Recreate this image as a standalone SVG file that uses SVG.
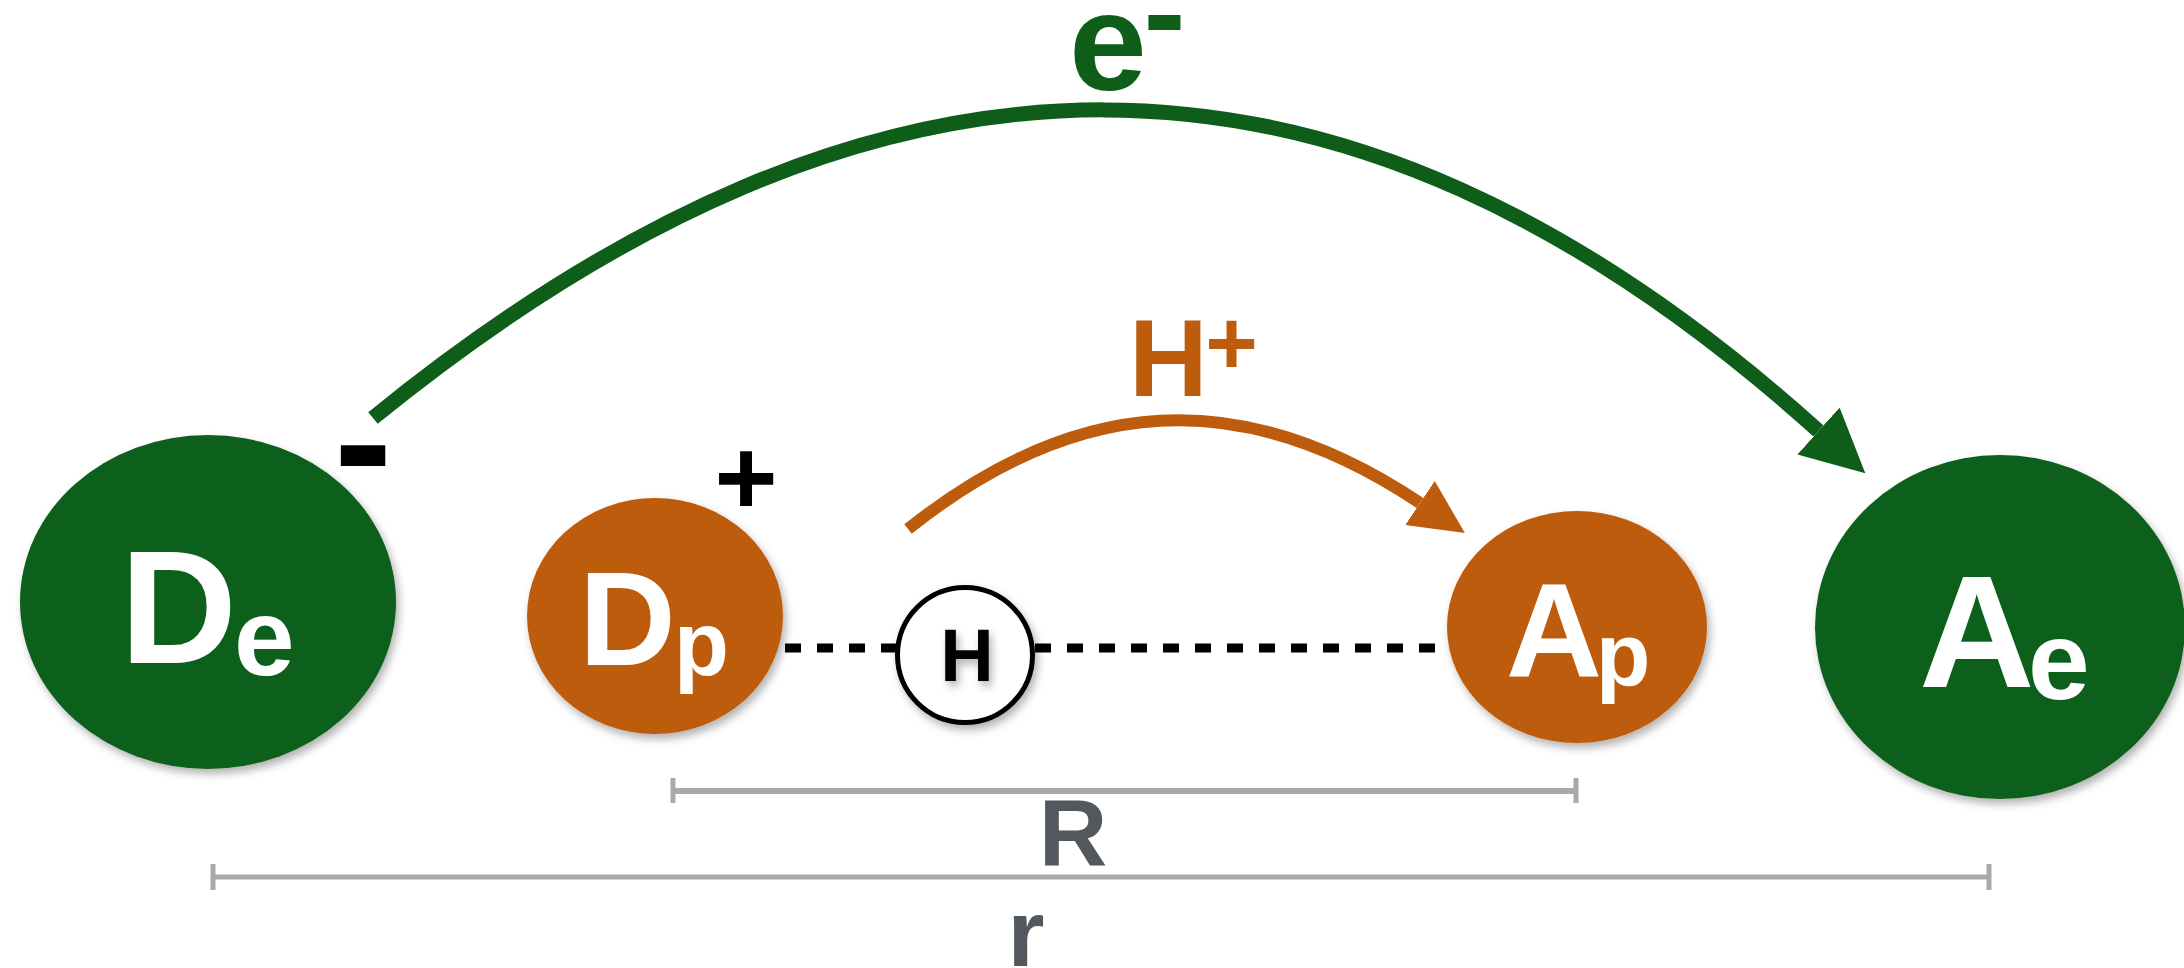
<svg xmlns="http://www.w3.org/2000/svg" width="2184" height="968" viewBox="0 0 2184 968">
  <style>
    .lbl { font-family: "Liberation Sans", Arial, sans-serif; font-weight: bold; }
    .w { fill: #ffffff; }
    .green { fill: #0e5e1a; }
    .orange { fill: #bd5c0c; }
    .dim { stroke: #a6aaa8; fill: none; }
    .dimtxt { fill: #53575e; }
    .dash { stroke: #000; stroke-width: 9; stroke-dasharray: 16 16; fill: none; }
  </style>
  <defs>
    <filter id="sh" x="-20%" y="-20%" width="140%" height="140%">
      <feDropShadow dx="3" dy="5" stdDeviation="4" flood-color="#000" flood-opacity="0.3"/>
    </filter>
    <marker id="gArrow" markerUnits="userSpaceOnUse" viewBox="0 -32 64 64" markerWidth="64" markerHeight="64" refX="0" refY="0" orient="auto">
      <path d="M0,-31.5 L63,0 L0,31.5 z" fill="#0e5e1a"/>
    </marker>
    <marker id="oArrow" markerUnits="userSpaceOnUse" viewBox="0 -27 55 54" markerWidth="55" markerHeight="54" refX="0" refY="0" orient="auto">
      <path d="M0,-26.5 L54,0 L0,26.5 z" fill="#bd5c0c"/>
    </marker>
  </defs>
  <rect width="2184" height="968" fill="#ffffff"/>

  <g id="connectors">
    <path id="e-transfer" d="M373,418 C873,11 1339,-1 1818.5,431" stroke="#0e5e1a" stroke-width="15" fill="none" marker-end="url(#gArrow)"/>
    <path id="h-transfer" d="M908,529 C1076.5,395 1240.7,383 1420,503" stroke="#bd5c0c" stroke-width="12" fill="none" marker-end="url(#oArrow)"/>
    <line class="dash" x1="785" y1="648" x2="897" y2="648"/>
    <line class="dash" x1="1035" y1="648" x2="1436" y2="648"/>
  </g>

  <g id="label-e">
    <text class="lbl green" x="1069" y="90" font-size="140">e<tspan font-size="126" dx="-3.3" dy="-35">-</tspan></text>
  </g>
  <g id="label-hplus">
    <text class="lbl orange" x="1129" y="396" font-size="109">H<tspan font-size="90" dx="-2.5" dy="-22">+</tspan></text>
  </g>

  <g id="De">
    <ellipse cx="208" cy="602" rx="188" ry="167" fill="#0e5e1a" filter="url(#sh)"/>
    <text class="lbl w" x="120" y="663" font-size="162">D<tspan font-size="109" dx="-3" dy="12">e</tspan></text>
    <text class="lbl" x="334" y="501" font-size="175" fill="#000">-</text>
  </g>

  <g id="Dp">
    <ellipse cx="655" cy="616" rx="128" ry="118" fill="#bd5c0c" filter="url(#sh)"/>
    <text class="lbl w" x="579" y="665" font-size="134">D<tspan font-size="90" dx="-1.7" dy="10">p</tspan></text>
    <text class="lbl" x="746" y="514" font-size="108" fill="#000" text-anchor="middle">+</text>
  </g>

  <g id="H">
    <circle cx="965" cy="655" r="67.5" fill="#ffffff" stroke="#000" stroke-width="5" filter="url(#sh)"/>
    <text class="lbl" x="967" y="681" font-size="74" fill="#000" text-anchor="middle" filter="url(#sh)">H</text>
  </g>

  <g id="Ap">
    <ellipse cx="1577" cy="627" rx="130" ry="116" fill="#bd5c0c" filter="url(#sh)"/>
    <text class="lbl w" x="1506" y="677" font-size="133">A<tspan font-size="89" dx="-6" dy="8">p</tspan></text>
  </g>

  <g id="Ae">
    <ellipse cx="2000" cy="627" rx="185" ry="172" fill="#0e5e1a" filter="url(#sh)"/>
    <text class="lbl w" x="1919" y="687" font-size="160">A<tspan font-size="111" dx="-6.5" dy="12">e</tspan></text>
  </g>

  <g id="dimension-R">
    <line class="dim" x1="673" y1="791" x2="1576" y2="791" stroke-width="6"/>
    <line class="dim" x1="673" y1="778" x2="673" y2="803" stroke-width="5"/>
    <line class="dim" x1="1576" y1="778" x2="1576" y2="803" stroke-width="5"/>
    <text class="lbl dimtxt" x="1073" y="866" font-size="95" text-anchor="middle">R</text>
  </g>

  <g id="dimension-r">
    <line class="dim" x1="213" y1="877" x2="1989" y2="877" stroke-width="5"/>
    <line class="dim" x1="213" y1="864" x2="213" y2="890" stroke-width="5"/>
    <line class="dim" x1="1989" y1="864" x2="1989" y2="890" stroke-width="5"/>
    <text class="lbl dimtxt" x="1026" y="966" font-size="95" text-anchor="middle">r</text>
  </g>
</svg>
